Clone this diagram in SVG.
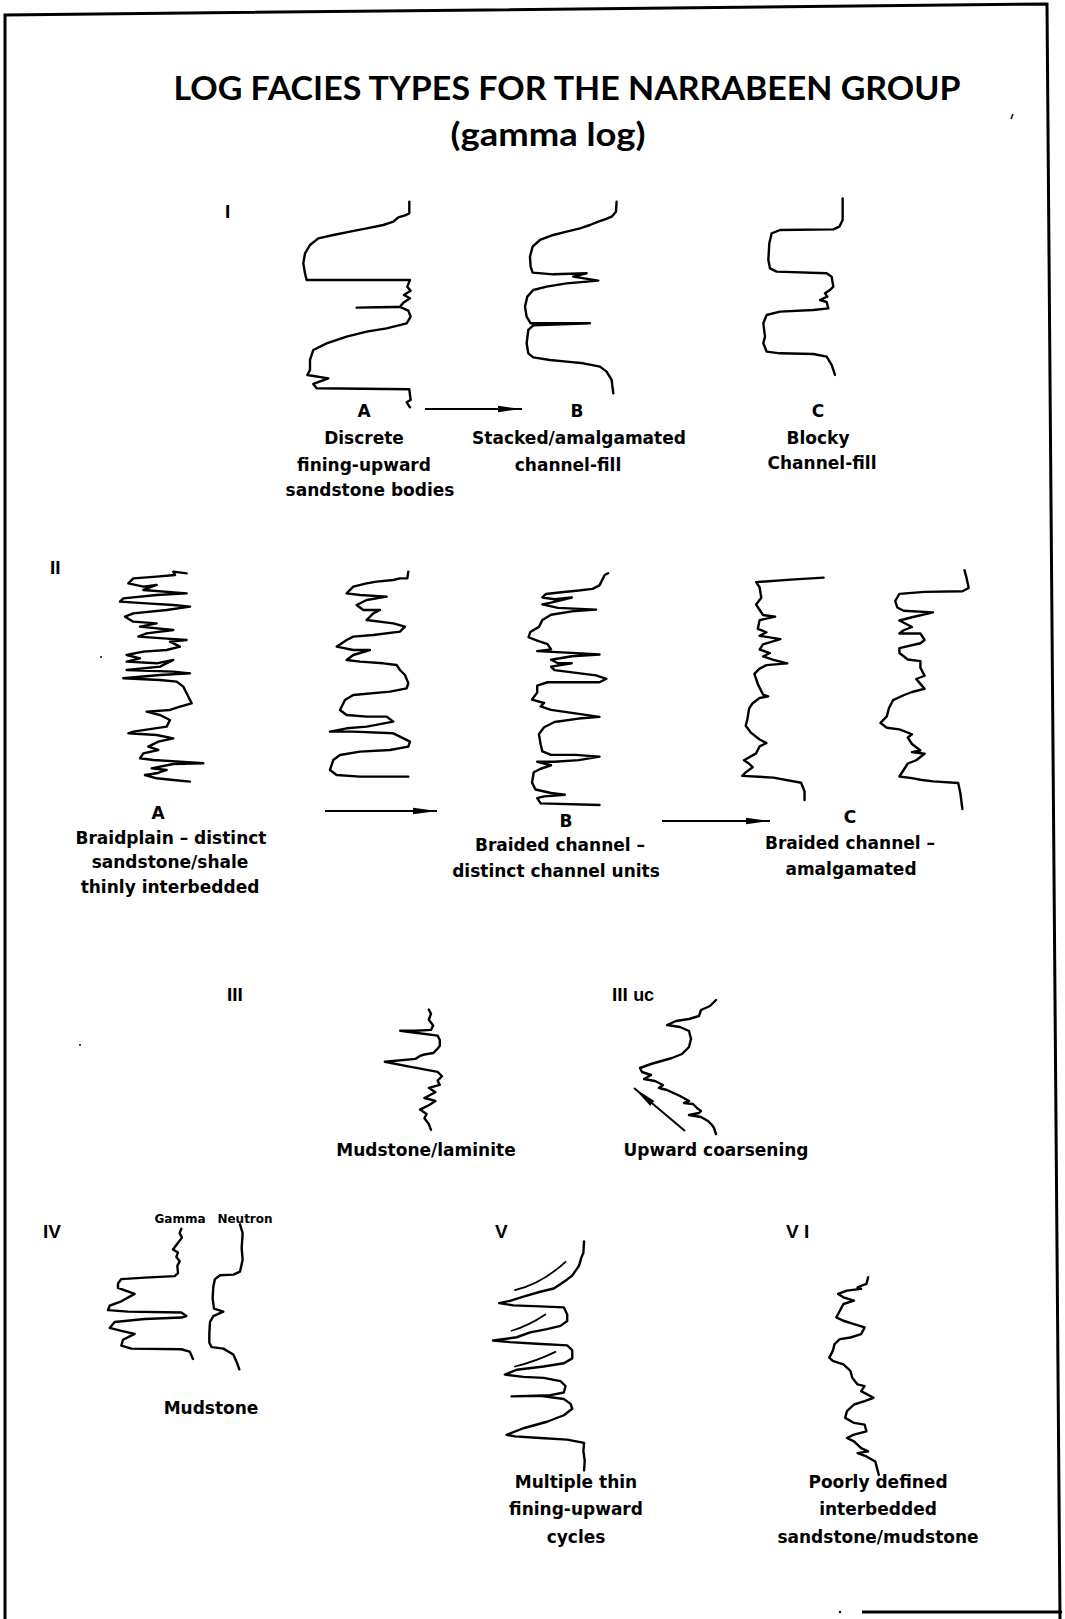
<svg xmlns="http://www.w3.org/2000/svg" width="1065" height="1619" viewBox="0 0 1065 1619">
  <defs>
    <marker id="head" markerUnits="userSpaceOnUse" markerWidth="24" markerHeight="8" viewBox="0 0 24 8" refX="24" refY="4" orient="auto">
      <path d="M0,0.8 L24,4 L0,7.2 z" fill="#000"/>
    </marker>
    <style>
      .trace { fill: none; stroke: #000; stroke-width: 2.4; stroke-linejoin: round; stroke-linecap: round; vector-effect: non-scaling-stroke; }
      .thin { fill: none; stroke: #000; stroke-width: 1.8; stroke-linecap: round; vector-effect: non-scaling-stroke; }
      .arrow { fill: none; stroke: #000; stroke-width: 2; }
      .frame { fill: none; stroke: #000; stroke-width: 3; }
      .title { font-family: Lato, "Open Sans", sans-serif; font-weight: 700; font-size: 32px; fill: #000; }
      .lbl { font-family: "DejaVu Sans", Verdana, sans-serif; font-weight: 700; font-size: 17px; fill: #000; text-anchor: middle; }
      .num { font-family: "Liberation Sans", Arial, sans-serif; font-weight: 700; font-size: 19px; fill: #000; }
      .small { font-family: "DejaVu Sans", Verdana, sans-serif; font-weight: 700; font-size: 12px; fill: #000; text-anchor: middle; }
    </style>
  </defs>
  <rect width="1065" height="1619" fill="#fff"/>

  <!-- page border -->
  <g id="border">
    <path class="frame" d="M5,1619 L5,15 L1047,4 L1060,1619"/>
    <path class="frame" d="M862,1612 L1062,1612"/>
    <circle cx="840" cy="1612" r="1.2" fill="#000"/>
    <path d="M1011,119 L1013,114" stroke="#000" stroke-width="1.5"/>
    <circle cx="101" cy="657" r="1" fill="#000"/>
    <circle cx="80" cy="1045" r="1" fill="#000"/>
  </g>

  <!-- heading -->
  <g id="heading">
    <text class="title" x="567" y="100" text-anchor="middle" textLength="787" lengthAdjust="spacingAndGlyphs">LOG FACIES TYPES FOR THE NARRABEEN GROUP</text>
    <text class="title" x="548" y="146" text-anchor="middle" textLength="195" lengthAdjust="spacingAndGlyphs">(gamma log)</text>
  </g>

  <!-- type I -->
  <g id="type-I">
    <text class="num" x="225" y="218">I</text>
  </g>
  <g id="log-IA">
    <path class="trace" transform="translate(200,180) scale(0.3333)" d="M628,65 L628,100 L615,106 L595,112 L580,125 L550,135 L500,145 L450,155 L400,165 L355,175 L330,195 L315,220 L310,250 L315,280 L320,300 L630,300 L622,320 L632,332 L612,345 L630,355 L610,368 L600,380 L470,383 L600,381 L625,392 L632,410 L620,430 L560,445 L500,455 L440,470 L380,490 L340,510 L330,540 L330,570 L322,585 L385,595 L340,612 L350,625 L628,628 L632,660 L620,667 L630,682"/>
    <text class="lbl" x="364" y="417">A</text>
    <text class="lbl" x="364" y="444">Discrete</text>
    <text class="lbl" x="364" y="471">fining-upward</text>
    <text class="lbl" x="370" y="496">sandstone bodies</text>
  </g>
  <g id="log-IB">
    <path class="trace" transform="translate(200,180) scale(0.3333)" d="M1250,65 L1248,95 L1235,110 L1215,118 L1195,125 L1170,135 L1140,145 L1100,155 L1060,165 L1020,180 L998,200 L990,230 L992,260 L998,278 L1060,283 L1160,280 L1120,290 L1195,302 L1100,310 L1040,320 L1000,330 L982,350 L975,380 L980,410 L992,430 L1170,430 L1000,436 L985,450 L980,490 L985,520 L1000,532 L1050,540 L1100,545 L1150,550 L1200,560 L1220,575 L1235,600 L1240,640"/>
    <text class="lbl" x="577" y="417">B</text>
    <text class="lbl" x="579" y="444">Stacked/amalgamated</text>
    <text class="lbl" x="568" y="471">channel-fill</text>
  </g>
  <g id="log-IC">
    <path class="trace" transform="translate(680,180) scale(0.3333)" d="M488,55 L488,120 L478,140 L460,148 L300,150 L275,160 L268,190 L265,240 L270,265 L290,275 L440,280 L455,290 L460,320 L450,330 L435,340 L442,350 L420,360 L440,366 L445,385 L400,390 L300,395 L260,405 L250,430 L255,470 L250,490 L260,515 L300,520 L400,522 L440,530 L455,555 L465,585"/>
    <text class="lbl" x="818" y="417">C</text>
    <text class="lbl" x="818" y="444">Blocky</text>
    <text class="lbl" x="822" y="469">Channel-fill</text>
  </g>

  <!-- type II -->
  <g id="type-II">
    <text class="num" x="50" y="574">II</text>
  </g>
  <g id="log-IIA">
    <path class="trace" transform="translate(0,540) scale(0.3333)" d="M560,100 L520,95 L525,105 L470,110 L400,115 L385,130 L430,140 L470,135 L430,150 L560,160 L470,165 L370,175 L360,185 L440,190 L520,195 L570,200 L500,210 L400,220 L375,230 L400,245 L470,250 L420,260 L520,270 L440,280 L415,290 L490,295 L560,300 L510,305 L540,320 L500,330 L430,335 L380,345 L420,355 L380,365 L470,370 L520,360 L480,380 L380,390 L520,395 L570,400 L480,405 L370,415 L480,420 L530,425 L550,440 L560,460 L575,490 L540,500 L510,510 L440,515 L480,525 L510,540 L500,560 L400,575 L385,580 L470,585 L520,595 L475,605 L445,620 L475,630 L430,640 L420,655 L460,660 L540,665 L610,670 L520,672 L455,685 L500,690 L470,700 L435,705 L470,715 L520,720 L570,725"/>
    <path class="trace" transform="translate(0,540) scale(0.3333)" d="M1225,95 L1222,115 L1200,115 L1180,120 L1130,125 L1100,130 L1060,140 L1040,160 L1080,165 L1160,170 L1100,180 L1070,195 L1090,210 L1140,210 L1120,220 L1100,240 L1180,250 L1215,260 L1200,275 L1120,285 L1060,290 L1040,300 L1010,320 L1060,330 L1110,330 L1060,345 L1040,360 L1080,365 L1150,370 L1190,375 L1200,390 L1215,405 L1225,430 L1220,445 L1170,455 L1060,465 L1035,480 L1020,510 L1040,525 L1100,530 L1160,530 L1180,545 L1100,560 L1040,565 L990,575 L1060,575 L1180,580 L1200,590 L1230,605 L1225,620 L1170,630 L1080,635 L1020,645 L1000,660 L990,690 L1010,705 L1080,710 L1225,710"/>
    <text class="lbl" x="158" y="819">A</text>
    <text class="lbl" x="171" y="844">Braidplain – distinct</text>
    <text class="lbl" x="170" y="868">sandstone/shale</text>
    <text class="lbl" x="170" y="893">thinly interbedded</text>
  </g>
  <g id="log-IIB">
    <path class="trace" transform="translate(468,530) scale(0.346)" d="M405,125 L395,130 L380,160 L360,170 L320,175 L270,180 L225,185 L215,195 L250,200 L300,195 L240,210 L215,215 L260,225 L370,230 L300,235 L240,245 L215,260 L205,280 L180,295 L175,310 L200,320 L230,330 L240,345 L200,350 L300,355 L380,360 L300,365 L240,375 L260,385 L300,385 L240,395 L250,405 L290,410 L370,420 L400,430 L380,440 L300,440 L230,440 L200,450 L200,470 L185,490 L220,500 L210,510 L240,520 L310,530 L380,540 L320,545 L250,555 L220,570 L205,590 L210,620 L215,640 L240,650 L310,650 L380,655 L320,665 L250,670 L200,670 L240,680 L210,690 L190,700 L185,730 L195,750 L240,760 L280,765 L220,770 L200,775 L210,790 L380,795"/>
    <text class="lbl" x="566" y="827">B</text>
    <text class="lbl" x="560" y="851">Braided channel –</text>
    <text class="lbl" x="556" y="877">distinct channel units</text>
  </g>
  <g id="log-IIC">
    <path class="trace" transform="translate(462,525) scale(0.346)" d="M1045,152 L950,158 L850,165 L860,180 L865,210 L850,230 L860,245 L870,260 L905,265 L860,275 L855,300 L880,310 L860,320 L920,330 L870,345 L860,360 L890,370 L870,380 L900,390 L940,400 L880,405 L860,415 L845,430 L855,460 L870,490 L885,495 L860,500 L840,515 L830,530 L825,560 L820,580 L835,600 L860,620 L880,630 L860,640 L850,660 L815,680 L830,690 L840,700 L820,715 L810,725 L900,730 L980,745 L990,770 L990,795"/>
    <path class="trace" transform="translate(366,536) scale(0.42,0.325)" d="M1425,105 L1430,130 L1435,160 L1420,170 L1330,172 L1270,178 L1260,200 L1265,220 L1280,230 L1350,235 L1300,250 L1270,260 L1300,280 L1280,290 L1270,300 L1320,300 L1330,320 L1320,330 L1270,345 L1270,360 L1290,380 L1320,385 L1320,405 L1330,430 L1310,440 L1320,455 L1330,470 L1300,480 L1280,490 L1255,505 L1245,530 L1240,555 L1225,575 L1240,590 L1270,595 L1300,610 L1290,620 L1300,640 L1320,660 L1300,665 L1330,670 L1310,690 L1290,700 L1280,720 L1270,740 L1300,745 L1320,750 L1350,755 L1410,760 L1415,790 L1420,840"/>
    <text class="lbl" x="850" y="823">C</text>
    <text class="lbl" x="850" y="849">Braided channel –</text>
    <text class="lbl" x="851" y="875">amalgamated</text>
  </g>

  <!-- type III -->
  <g id="type-III">
    <text class="num" x="227" y="1001">III</text>
  </g>
  <g id="log-III">
    <path class="trace" transform="translate(178,953) scale(0.44,0.29)" d="M570,195 L575,210 L570,230 L580,250 L575,265 L540,268 L505,268 L540,275 L590,285 L595,300 L595,320 L590,330 L580,345 L560,350 L550,355 L540,365 L470,375 L520,390 L590,410 L600,425 L590,440 L595,455 L570,465 L585,480 L560,500 L585,510 L570,525 L550,540 L565,555 L560,570 L570,590 L575,610"/>
    <text class="lbl" x="426" y="1156">Mudstone/laminite</text>
  </g>
  <g id="type-IIIuc">
    <text class="num" x="612" y="1001">III <tspan font-size="18">uc</tspan></text>
  </g>
  <g id="log-IIIuc">
    <path class="trace" d="M716,1000 L710,1006 L701,1010 L699,1016 L689,1019 L676,1021 L667,1025 L680,1027 L689,1031 L691,1039 L689,1047 L682,1054 L672,1058 L651,1064 L640,1068 L642,1072 L651,1075 L644,1079 L655,1081 L663,1085 L659,1088 L667,1090 L680,1096 L689,1101 L684,1103 L693,1104 L697,1108 L701,1111 L699,1113 L689,1115 L701,1117 L708,1121 L712,1125 L714,1128 L716,1134"/>
    <path class="arrow" d="M685,1131 L634,1088" marker-end="url(#head)"/>
    <text class="lbl" x="716" y="1156">Upward coarsening</text>
  </g>

  <!-- type IV -->
  <g id="type-IV">
    <text class="num" x="43" y="1238">IV</text>
    <text class="small" x="180" y="1223">Gamma</text>
    <text class="small" x="245" y="1223">Neutron</text>
  </g>
  <g id="log-IV">
    <path class="trace" transform="translate(78,1174) scale(0.3333,0.296)" d="M310,185 L305,200 L312,215 L295,240 L285,255 L300,265 L295,280 L305,295 L298,310 L300,335 L290,345 L200,350 L130,355 L120,370 L120,385 L170,405 L130,430 L95,445 L90,460 L150,465 L310,468 L325,480 L310,485 L200,490 L110,500 L95,520 L130,530 L170,540 L135,560 L130,580 L160,590 L310,592 L335,600 L345,625"/>
    <path class="trace" transform="translate(80,1174) scale(0.3333,0.296)" d="M480,170 L488,200 L485,250 L488,290 L480,330 L460,340 L420,342 L405,355 L400,380 L398,420 L402,455 L430,465 L400,480 L390,500 L388,540 L388,570 L395,585 L430,590 L460,610 L470,635 L478,660"/>
    <text class="lbl" x="211" y="1414">Mudstone</text>
  </g>

  <!-- type V -->
  <g id="type-V">
    <text class="num" x="495" y="1238">V</text>
  </g>
  <g id="log-V">
    <g transform="translate(456,1178) scale(0.337,0.325)">
      <path class="trace" d="M380,195 L378,230 L372,245 L365,270 L355,285 L345,300 L330,312 L305,330 L290,340 L250,350 L200,365 L160,378 L128,385 L170,392 L250,395 L320,398 L330,420 L330,440 L310,455 L270,465 L220,475 L180,490 L110,500 L160,505 L240,510 L330,515 L345,530 L345,555 L320,570 L260,580 L180,590 L145,605 L200,612 L260,615 L310,625 L325,640 L320,660 L280,668 L165,672 L250,670 L320,680 L340,695 L345,710 L320,730 L270,750 L200,770 L150,790 L175,795 L250,800 L330,805 L380,815 L378,840 L382,870 L380,900"/>
      <path class="thin" d="M175,345 Q255,325 325,258"/>
      <path class="thin" d="M165,470 Q215,455 265,420"/>
      <path class="thin" d="M175,580 Q235,565 295,535"/>
    </g>
    <text class="lbl" x="576" y="1488">Multiple thin</text>
    <text class="lbl" x="576" y="1515">fining-upward</text>
    <text class="lbl" x="576" y="1543">cycles</text>
  </g>

  <!-- type VI -->
  <g id="type-VI">
    <text class="num" x="786" y="1238">V I</text>
  </g>
  <g id="log-VI">
    <path class="trace" transform="translate(454,1170) scale(0.354,0.335)" d="M1170,320 L1165,340 L1140,350 L1150,355 L1110,360 L1085,370 L1100,380 L1130,390 L1100,400 L1090,420 L1080,440 L1100,450 L1130,460 L1160,470 L1150,490 L1120,500 L1090,505 L1075,520 L1070,540 L1060,560 L1070,570 L1100,580 L1110,590 L1120,600 L1125,620 L1140,640 L1160,645 L1150,660 L1185,680 L1160,690 L1130,700 L1110,720 L1105,740 L1130,755 L1160,760 L1165,780 L1130,790 L1110,800 L1130,810 L1150,830 L1170,840 L1140,845 L1165,855 L1190,870 L1195,890 L1200,910"/>
    <text class="lbl" x="878" y="1488">Poorly defined</text>
    <text class="lbl" x="878" y="1515">interbedded</text>
    <text class="lbl" x="878" y="1543">sandstone/mudstone</text>
  </g>

  <!-- connectors between facies -->
  <g id="connectors">
    <path class="arrow" d="M425,409 L522,409" marker-end="url(#head)"/>
    <path class="arrow" d="M325,811 L437,811" marker-end="url(#head)"/>
    <path class="arrow" d="M662,821 L770,821" marker-end="url(#head)"/>
  </g>
</svg>
